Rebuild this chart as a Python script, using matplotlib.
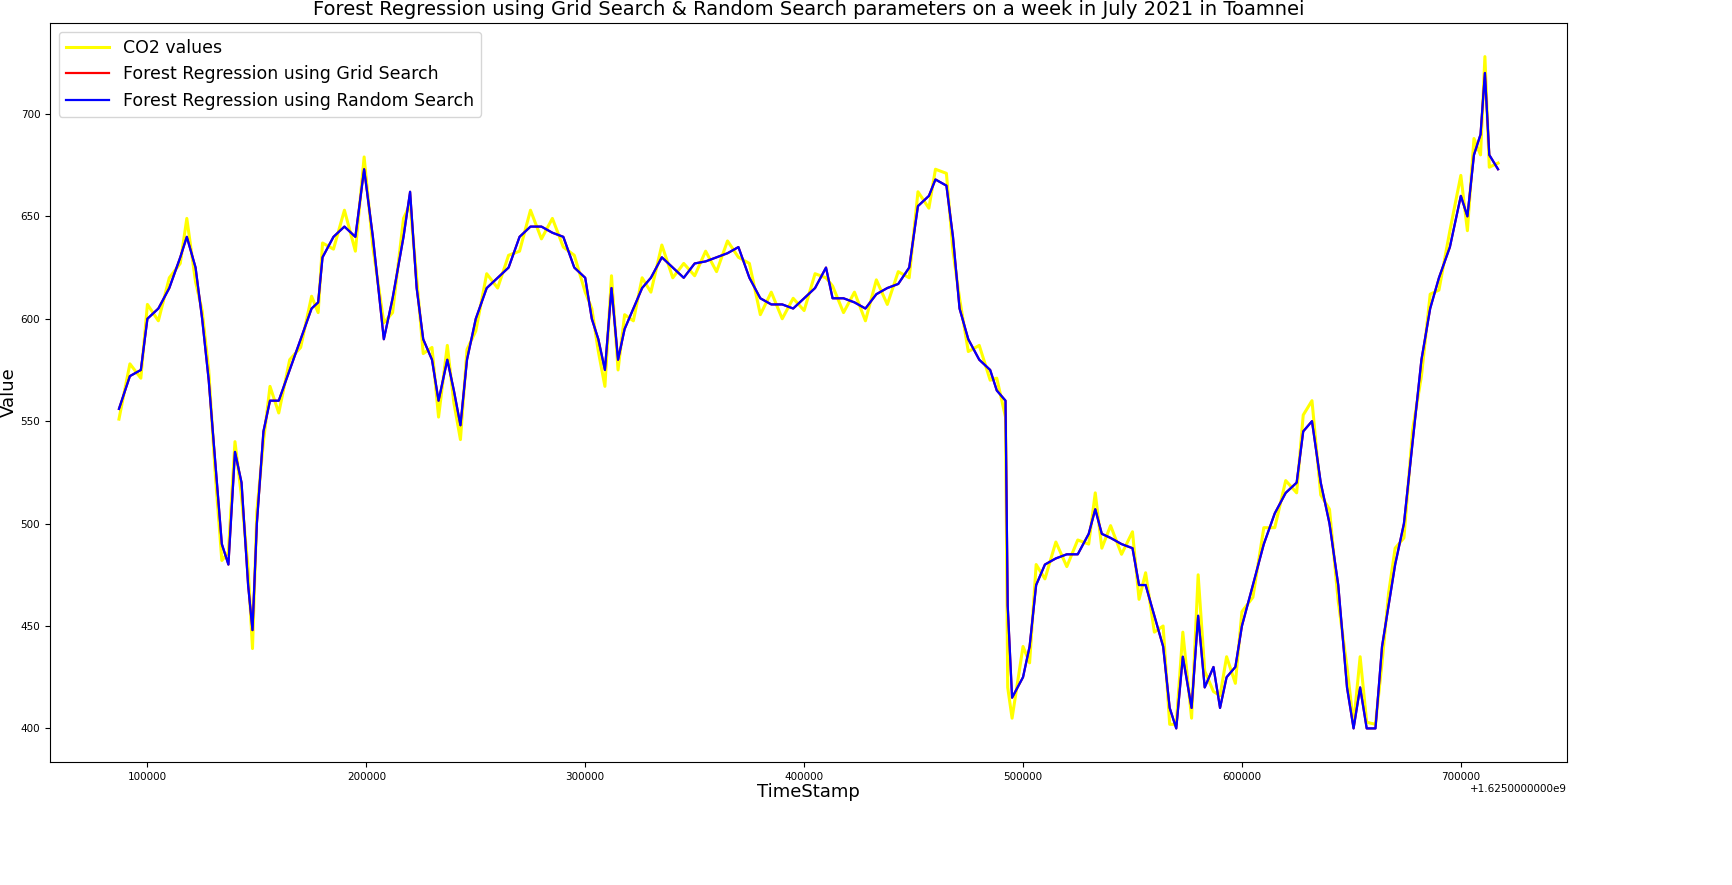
import matplotlib
matplotlib.use("Agg")
import matplotlib.pyplot as plt
import numpy as np

# seconds after 1.625e9, in thousands
t_offsets_k = [
    87, 92, 97, 100, 105, 110, 115, 118, 122, 125,
    128, 131, 134, 137, 140, 143, 146, 148, 150, 153,
    156, 160, 165, 170, 175, 178, 180, 185, 190, 195,
    199, 203, 208, 212, 217, 220, 223, 226, 230, 233,
    237, 240, 243, 246, 250, 255, 260, 265, 270, 275,
    280, 285, 290, 295, 300, 303, 306, 309, 312, 315,
    318, 322, 326, 330, 335, 340, 345, 350, 355, 360,
    365, 370, 375, 380, 385, 390, 395, 400, 405, 410,
    413, 418, 423, 428, 433, 438, 443, 448, 452, 457,
    460, 465, 468, 471, 475, 480, 485, 488, 492, 493,
    495, 500, 503, 506, 510, 515, 520, 525, 530, 533,
    536, 540, 545, 550, 553, 556, 560, 564, 567, 570,
    573, 577, 580, 583, 587, 590, 593, 597, 600, 605,
    610, 615, 620, 625, 628, 632, 636, 640, 644, 648,
    651, 654, 657, 661, 664, 667, 670, 674, 678, 682,
    686, 690, 695, 700, 703, 706, 709, 711, 713, 717,
]

forest_values = [
    556, 572, 575, 600, 605, 615, 630, 640, 625, 600,
    570, 530, 490, 480, 535, 520, 470, 448, 500, 545,
    560, 560, 575, 590, 605, 608, 630, 640, 645, 640,
    673, 640, 590, 610, 640, 662, 615, 590, 580, 560,
    580, 565, 548, 580, 600, 615, 620, 625, 640, 645,
    645, 642, 640, 625, 620, 600, 590, 575, 615, 580,
    595, 605, 615, 620, 630, 625, 620, 627, 628, 630,
    632, 635, 620, 610, 607, 607, 605, 610, 615, 625,
    610, 610, 608, 605, 612, 615, 617, 625, 655, 660,
    668, 665, 640, 605, 590, 580, 575, 565, 560, 460,
    415, 425, 440, 470, 480, 483, 485, 485, 495, 507,
    495, 493, 490, 488, 470, 470, 455, 440, 410, 400,
    435, 410, 455, 420, 430, 410, 425, 430, 450, 470,
    490, 505, 515, 520, 545, 550, 520, 500, 470, 420,
    400, 420, 400, 400, 440, 460, 480, 500, 540, 580,
    605, 620, 635, 660, 650, 680, 690, 720, 680, 673,
]

co2_diff = [
    -5, 6, -4, 7, -6, 5, -3, 9, -7, 4,
    5, -6, -8, 6, 5, -7, 8, -9, 6, -5,
    7, -6, 5, -4, 6, -5, 7, -6, 8, -7,
    6, -5, 8, -7, 9, -6, 5, -7, 6, -8,
    7, -6, -7, 5, -6, 7, -5, 6, -7, 8,
    -6, 7, -5, 6, -7, 5, -6, -8, 6, -5,
    7, -6, 5, -7, 6, -5, 7, -6, 5, -7,
    6, -5, 7, -8, 6, -7, 5, -6, 7, -5,
    6, -7, 5, -6, 7, -8, 6, -5, 7, -6,
    5, 6, -7, 5, -6, 7, -5, 6, -8, -40,
    -10, 15, -8, 10, -7, 8, -6, 7, -5, 8,
    -7, 6, -5, 8, -7, 6, -8, 10, -8, 2,
    12, -5, 20, 8, -12, 6, 10, -8, 7, -6,
    8, -7, 6, -5, 8, 10, -6, 7, -8, 10,
    2, 15, 3, 2, -8, 6, 8, -7, 6, -8,
    7, -6, 8, 10, -7, 8, -10, 8, -6, 3,
]

seconds = np.array(t_offsets_k) * 1000.0
forest = np.array(forest_values, dtype=float)
co2 = forest + np.array(co2_diff)

fig, ax = plt.subplots(figsize=(17.33, 8.85), dpi=100)
ax.plot(seconds, co2, color="yellow", lw=2.2, label="CO2 values")
ax.plot(seconds, forest, color="red", lw=1.6, label="Forest Regression using Grid Search")
ax.plot(seconds, forest, color="blue", lw=1.6, label="Forest Regression using Random Search")
ax.set_title("Forest Regression using Grid Search & Random Search parameters on a week in July 2021 in Toamnei",
             fontsize=14)
ax.set_xlabel("TimeStamp", fontsize=13, labelpad=1)
ax.set_ylabel("Value", fontsize=13, labelpad=2)
ax.tick_params(labelsize=7.5)
ax.text(1.0, -0.03, "+1.6250000000e9", transform=ax.transAxes, ha="right", va="top", fontsize=7.5)
ax.legend(loc="upper left", fontsize=12.5, handlelength=2.5)
fig.subplots_adjust(left=50 / 1733, right=1567 / 1733, top=1 - 23 / 885, bottom=1 - 762 / 885)
fig.savefig("out.png", dpi=100)
